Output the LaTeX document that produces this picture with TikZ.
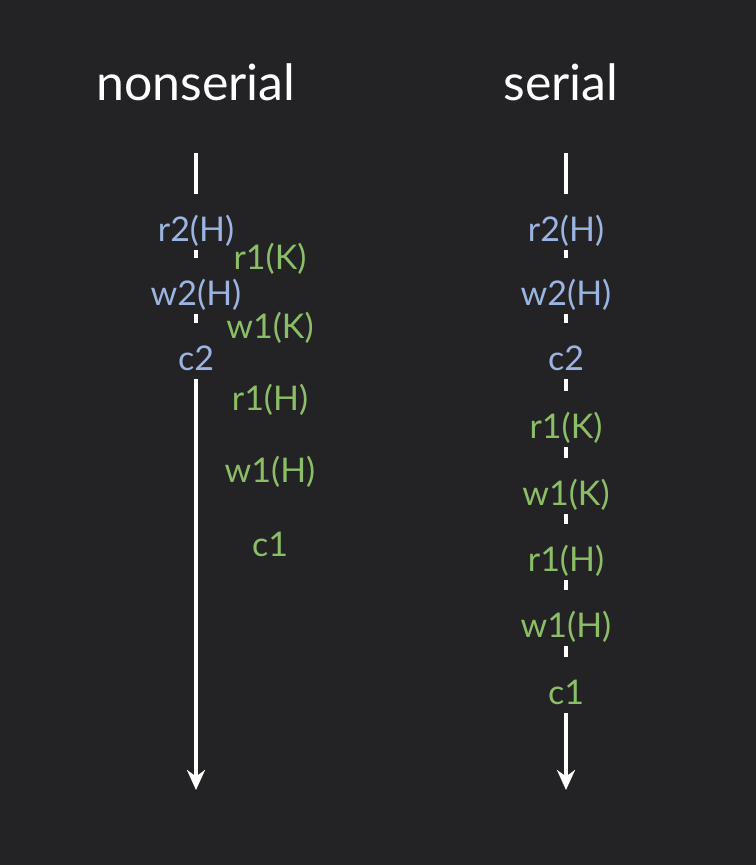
\documentclass[tikz,border=0pt]{standalone}
\usepackage{fontspec}
\setmainfont{Lato}
\usetikzlibrary{arrows.meta}
\definecolor{bg}{RGB}{35,34,36}
\definecolor{txone}{RGB}{139,190,103}
\definecolor{txtwo}{RGB}{156,180,226}

\begin{document}
\begin{tikzpicture}
        [
            x=0.75pt, y=-0.75pt,
            op/.style={font=\fontsize{25.5}{30}\selectfont, inner sep=0pt, outer sep=0pt,
                text height=23.5pt, text depth=2pt, minimum height=34.5pt},
            one/.style={op, text=txone},
            two/.style={op, text=txtwo},
            title/.style={font=\fontsize{37.5}{42}\selectfont, text=white, anchor=base},
            timeline/.style={draw=white, line width=3pt},
            gap/.style={timeline, shorten >=7.5pt},
            tip/.style={timeline, -{Stealth[length=15pt, width=13.5pt]}},
        ]
        \fill[bg] (0,0) rectangle (756,865);

        % nonserial
        \node[title] (tnon) at (196,100) {nonserial};
        \coordinate (ltop) at (196,153);
        \coordinate (lend) at (196,790);
        \node[two] (lr2h) at (196,227) {r2(H)};
        \node[two] (lw2h) at (196,291) {w2(H)};
        \node[two] (lc2) at (196,356) {c2};
        \node[one] (lr1k) at (270,255) {r1(K)};
        \node[one] (lw1k) at (270,324) {w1(K)};
        \node[one] (lr1h) at (270,396) {r1(H)};
        \node[one] (lw1h) at (270,468) {w1(H)};
        \node[one] (lc1) at (270,542) {c1};
        \draw[gap] (ltop) -- (lr2h);
        \draw[gap] (lr2h) -- (lw2h);
        \draw[gap] (lw2h) -- (lc2);
        \draw[tip] (lc2) -- (lend);

        % serial
        \node[title] (tser) at (561,100) {serial};
        \coordinate (rtop) at (566,153);
        \coordinate (rend) at (566,790);
        \node[two] (rr2h) at (566,227) {r2(H)};
        \node[two] (rw2h) at (566,291) {w2(H)};
        \node[two] (rc2) at (566,356) {c2};
        \node[one] (rr1k) at (566,424) {r1(K)};
        \node[one] (rw1k) at (566,491) {w1(K)};
        \node[one] (rr1h) at (566,557) {r1(H)};
        \node[one] (rw1h) at (566,623) {w1(H)};
        \node[one] (rc1) at (566,690) {c1};
        \draw[gap] (rtop) -- (rr2h);
        \draw[gap] (rr2h) -- (rw2h);
        \draw[gap] (rw2h) -- (rc2);
        \draw[gap] (rc2) -- (rr1k);
        \draw[gap] (rr1k) -- (rw1k);
        \draw[gap] (rw1k) -- (rr1h);
        \draw[gap] (rr1h) -- (rw1h);
        \draw[gap] (rw1h) -- (rc1);
        \draw[tip] (rc1) -- (rend);
\end{tikzpicture}
\end{document}
